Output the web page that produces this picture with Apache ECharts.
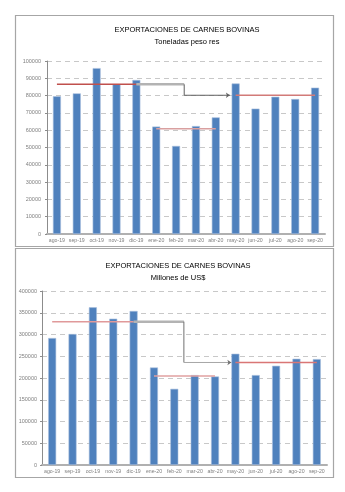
<!DOCTYPE html>
<html><head><meta charset="utf-8">
<script src="https://cdn.jsdelivr.net/npm/echarts@6/dist/echarts.min.js"></script>
<style>html,body{margin:0;padding:0;background:#fff}#c{width:345px;height:492px}</style>
</head><body><div id="c"></div>
<script>
const categories = ['ago-19','sep-19','oct-19','nov-19','dic-19','ene-20','feb-20','mar-20','abr-20','may-20','jun-20','jul-20','ago-20','sep-20'];
const toneladas = [79600, 81300, 95900, 86600, 89000, 62100, 50900, 62400, 67400, 87000, 72500, 79300, 78000, 84600];
const millonesUSD = [291900, 301100, 362500, 336400, 354100, 224200, 175100, 206700, 203500, 255700, 206700, 228100, 244200, 243500];
// period averages
const promTon = [86500, 60900, 80200];
const promUSD = [329500, 204400, 235700];
// period spans (category indexes)
const periodos = [[0,4],[5,8],[9,13]];
const titulo = 'EXPORTACIONES DE CARNES BOVINAS';
const subTop = 'Toneladas peso res';
const subBot = 'Millones de US$';

const FONT = 'Liberation Sans';
const chart = echarts.init(document.getElementById('c'), null, {renderer:'canvas'});

function yAxis(gi, max, interval, margin){
  return {type:'value', gridIndex:gi, min:0, max:max, interval:interval,
    axisLine:{show:true, onZero:false, lineStyle:{color:'#8c8c8c', width:1}},
    axisTick:{show:true, length:2, lineStyle:{color:'#8c8c8c'}},
    axisLabel:{fontSize:5.5, color:'#7f7f7f', margin:margin, fontFamily:FONT, formatter:(v)=>String(v)},
    splitLine:{show:true, lineStyle:{color:'#c8c8c8', type:[5,4], width:1}}};
}
function xCat(gi){
  return {type:'category', gridIndex:gi, data:categories, boundaryGap:true,
    axisLine:{show:true, onZero:false, lineStyle:{color:'#b0b0b0', width:2}},
    axisTick:{show:false},
    axisLabel:{fontSize:5.2, color:'#7f7f7f', margin:4, interval:0, fontFamily:FONT}};
}
function xVal(gi){
  return {type:'value', gridIndex:gi, min:-0.5, max:categories.length-0.5, show:false,
    axisLine:{onZero:false}};
}
function redLines(xi, yi, proms, colors){
  return periodos.map((p,k)=>({type:'line', xAxisIndex:xi, yAxisIndex:yi, symbol:'none', z:5,
    silent:true, lineStyle:{color:colors[k], width:1.5},
    data:[[p[0],proms[k]],[p[1],proms[k]]]}));
}
function connector(xi, yi, y1, y2, xElbow, xEnd, c1, c2, c3){
  return [
    {type:'line', xAxisIndex:xi, yAxisIndex:yi, symbol:'none', z:6, silent:true,
      lineStyle:{color:c1, width:2.5}, data:[[periodos[0][1],y1],[xElbow,y1]]},
    {type:'line', xAxisIndex:xi, yAxisIndex:yi, symbol:'none', z:6, silent:true,
      lineStyle:{color:c2, width:1}, data:[[xElbow,y1],[xElbow,y2]]},
    {type:'line', xAxisIndex:xi, yAxisIndex:yi, z:6, silent:true, showSymbol:true,
      lineStyle:{color:c3, width:1}, itemStyle:{color:c2},
      data:[{value:[xElbow,y2], symbol:'none'},
            {value:[xEnd,y2], symbol:'arrow', symbolSize:[4,4], symbolRotate:-90}]}
  ];
}

const option = {
  animation:false,
  backgroundColor:'#fff',
  graphic:[
    {type:'rect', shape:{x:15.5,y:15.5,width:318,height:231}, style:{fill:'none', stroke:'#a6a6a6', lineWidth:1.2}},
    {type:'rect', shape:{x:15.5,y:248.5,width:318,height:229}, style:{fill:'none', stroke:'#a6a6a6', lineWidth:1.2}}
  ],
  title:[
    {text:titulo, left:182, top:21, textAlign:'center', textStyle:{fontSize:7.5, fontWeight:'normal', color:'#000', fontFamily:FONT}},
    {text:subTop, left:182, top:33, textAlign:'center', textStyle:{fontSize:7.5, fontWeight:'normal', color:'#000', fontFamily:FONT}},
    {text:titulo, left:173, top:257, textAlign:'center', textStyle:{fontSize:7.5, fontWeight:'normal', color:'#000', fontFamily:FONT}},
    {text:subBot, left:173, top:269, textAlign:'center', textStyle:{fontSize:7.5, fontWeight:'normal', color:'#000', fontFamily:FONT}}
  ],
  grid:[
    {left:47, right:20, top:61, height:173},
    {left:42, right:18, top:291, height:174}
  ],
  xAxis:[xCat(0), xCat(1), xVal(0), xVal(1)],
  yAxis:[yAxis(0,100000,10000,6), yAxis(1,400000,50000,5)],
  series:[
    {type:'bar', xAxisIndex:0, yAxisIndex:0, data:toneladas, barWidth:8,
      itemStyle:{color:'#4f81bd', borderColor:'#a9c0de', borderWidth:0.6}},
    {type:'bar', xAxisIndex:1, yAxisIndex:1, data:millonesUSD, barWidth:8,
      itemStyle:{color:'#4f81bd', borderColor:'#a9c0de', borderWidth:0.6}},
    ...redLines(2, 0, promTon, ['#c0504d','#d9a0a0','#d27a78']),
    ...redLines(3, 1, promUSD, ['#e0999a','#e0a0a0','#d97675']),
    ...connector(2, 0, promTon[0], promTon[2], 6.41, 8.71, '#b3b3b3', '#606060', '#606060'),
    ...connector(3, 1, promUSD[0], promUSD[2], 6.47, 8.8, '#b3b3b3', '#707070', '#a6a6a6')
  ]
};
chart.setOption(option);
</script></body></html>
